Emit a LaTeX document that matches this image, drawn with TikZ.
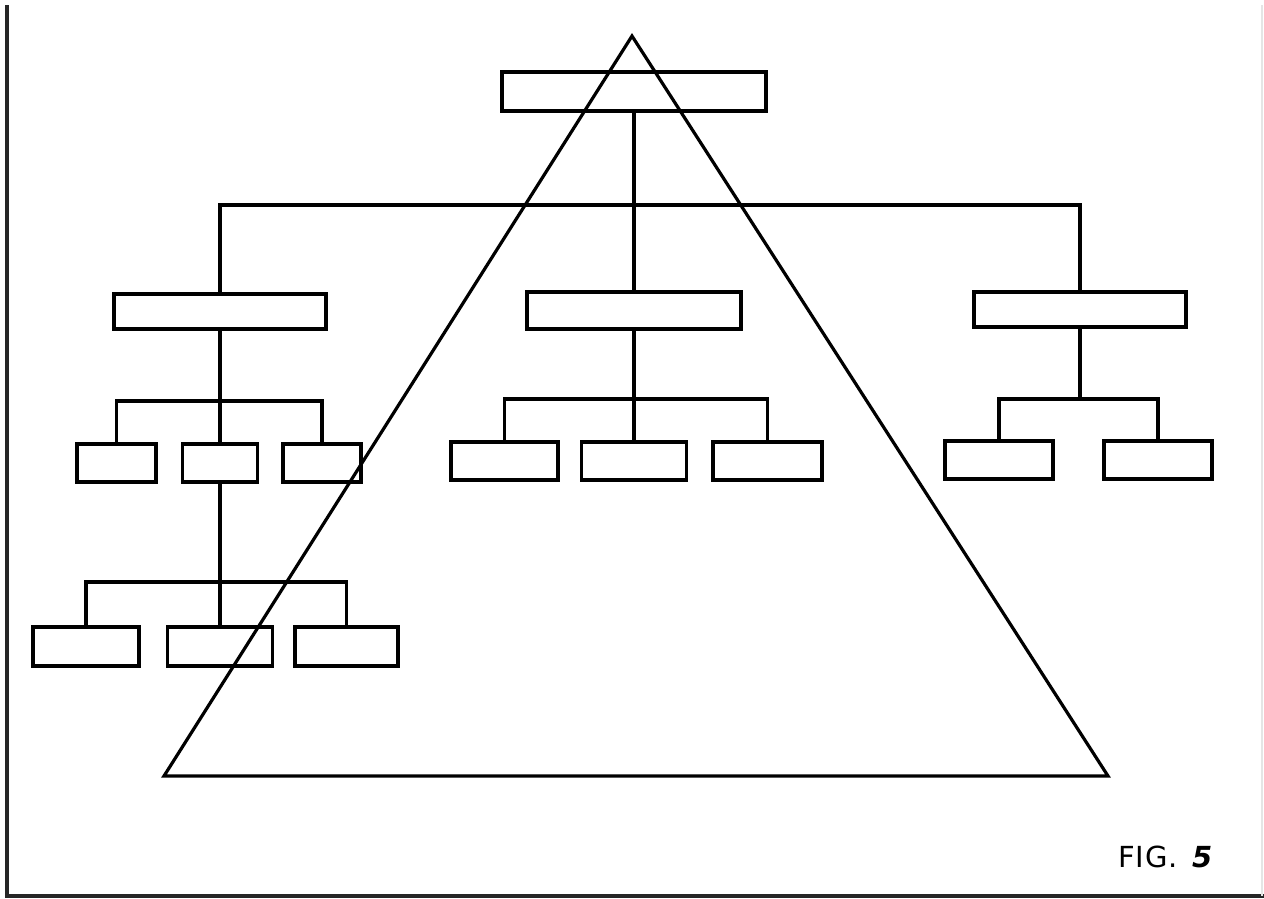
\documentclass[tikz,border=0pt]{standalone}
\usepackage{fontspec}
\setmainfont{DejaVu Sans}
\begin{document}
\begin{tikzpicture}[x=1pt,y=-1pt,
  box/.style={draw=black,line width=3.4pt,rectangle,inner sep=0pt,minimum height=#1},
  box/.default=38pt,
  link/.style={draw=black,line width=3.1pt},
  tri/.style={draw=black,line width=3.2pt,line join=miter},
  frame/.style={draw=black!85,line width=3.4pt}]
\useasboundingbox (0,0) rectangle (1264,898);
% frame
\draw[frame] (7,5) -- (7,896) -- (1264,896);
\draw[draw=black!10,line width=1.5pt] (1262,5) -- (1262,896);
% boxes
\node[box=39pt,minimum width=264pt] (top) at (634,91.5) {};
\node[box=35pt,minimum width=212pt] (ml) at (220,311.5) {};
\node[box=37pt,minimum width=214pt] (cm) at (634,310.5) {};
\node[box=35pt,minimum width=212pt] (rm) at (1080,309.5) {};
\node[box=38pt,minimum width=79pt] (l1) at (116.5,463) {};
\node[box=38pt,minimum width=75pt] (l2) at (220,463) {};
\node[box=38pt,minimum width=78pt] (l3) at (322,463) {};
\node[box=39pt,minimum width=106pt] (ll1) at (86,646.5) {};
\node[box=39pt,minimum width=105pt] (ll2) at (220,646.5) {};
\node[box=39pt,minimum width=103pt] (ll3) at (346.5,646.5) {};
\node[box=38pt,minimum width=107pt] (c1) at (504.5,461) {};
\node[box=38pt,minimum width=105pt] (c2) at (634,461) {};
\node[box=38pt,minimum width=109pt] (c3) at (767.5,461) {};
\node[box=38pt,minimum width=108pt] (r1) at (999,460) {};
\node[box=38pt,minimum width=108pt] (r2) at (1158,460) {};
% bus coordinates
\coordinate (bus0) at (634,205);
\coordinate (busl) at (220,401);
\coordinate (busll) at (220,582);
\coordinate (busc) at (634,399);
\coordinate (busr) at (1080,399);
% connectors
\draw[link] (top.south) -- (cm.north);
\draw[link] (ml.north) |- (bus0) -| (rm.north);
\draw[link] (ml.south) -- (l2.north);
\draw[link] (l1.north) |- (busl) -| (l3.north);
\draw[link] (l2.south) -- (ll2.north);
\draw[link] (ll1.north) |- (busll) -| (ll3.north);
\draw[link] (cm.south) -- (c2.north);
\draw[link] (c1.north) |- (busc) -| (c3.north);
\draw[link] (rm.south) -- (busr);
\draw[link] (r1.north) |- (busr) -| (r2.north);
% triangle
\coordinate (apex) at (632,36);
\coordinate (bl) at (164,776);
\coordinate (br) at (1108,776);
\draw[tri] (apex) -- (bl) -- (br) -- cycle;
% label
\node[anchor=base west,inner sep=0pt,font=\fontsize{29}{31}\selectfont] (fig) at (1118,867) {F\kern1ptI\kern1ptG\kern1pt.\hspace{14pt}\textbf{\textit{5}}};
\end{tikzpicture}
\end{document}
